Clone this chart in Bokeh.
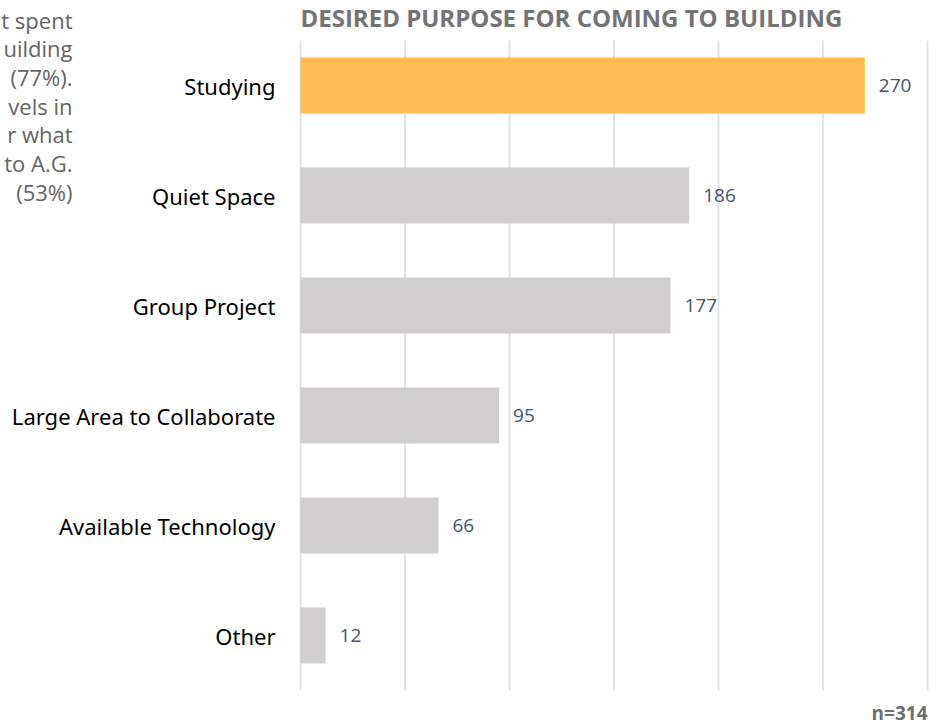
from bokeh.plotting import figure
from bokeh.models import Range1d, ColumnDataSource
from bokeh.core.properties import value
from bokeh.embed import file_html
from bokeh.resources import INLINE

categories = ["Studying", "Quiet Space", "Group Project", "Large Area to Collaborate", "Available Technology", "Other"]
counts = [270, 186, 177, 95, 66, 12]
colors = ["#FFBB4F", "#D0CECE", "#D0CECE", "#D0CECE", "#D0CECE", "#D0CECE"]
title_text = "DESIRED PURPOSE FOR COMING TO BUILDING"
note_text = "n=314"
side_lines = ["t spent", "uilding", "(77%).", "vels in", "r what", "to A.G.", "(53%)"]
x_ticks = [0, 50, 100, 150, 200, 250, 300]

W, H = 931, 726
left_px, px_per_x = 300.0, 2.09
top_center_px, px_per_y = 85.0, 110.0
n = len(categories)
ypos = [n - 1 - i for i in range(n)]

def dx(px):
    return (px - left_px) / px_per_x

def dy(py):
    return (n - 1) + (top_center_px - py) / px_per_y

p = figure(width=W, height=H, output_backend="svg", toolbar_location=None,
           x_range=Range1d(dx(0), dx(W)), y_range=Range1d(dy(H), dy(0)),
           min_border=0)
p.outline_line_color = None
p.axis.visible = False
p.grid.visible = False
p.background_fill_color = "white"
p.border_fill_color = "white"

# grid lines
p.segment(x0=x_ticks, y0=[dy(690)] * len(x_ticks), x1=x_ticks, y1=[dy(40)] * len(x_ticks),
          line_color="#DFE3EA", line_width=2)

src = ColumnDataSource(dict(y=ypos, v=counts, c=colors, lab=[str(v) for v in counts], cat=categories))
p.hbar(y="y", left=0, right="v", height=0.51, fill_color="c", line_color=None, source=src)
p.text(x="v", y="y", text="lab", source=src, x_offset=14, text_baseline="middle",
       text_font=value("Open Sans"), text_font_size="19px", text_color="#44546A")
p.text(x=0, y="y", text="cat", source=src, x_offset=-25, text_align="right", text_baseline="middle",
       text_font=value("Noto Sans"), text_font_size="22px", text_color="#000000")

p.text(x=[0], y=[dy(17)], text=[title_text], text_baseline="middle",
       text_font=value("Open Sans"), text_font_style="bold", text_font_size="24px",
       text_color="#737375")
p.text(x=[x_ticks[-1]], y=[dy(712)], text=[note_text], text_align="right", text_baseline="middle",
       text_font=value("Open Sans"), text_font_style="bold", text_font_size="19px",
       text_color="#6E6E70")
p.text(x=[dx(72)] * len(side_lines), y=[dy(19 + 28.7 * i) for i in range(len(side_lines))],
       text=side_lines, text_align="right", text_baseline="middle",
       text_font=value("Open Sans"), text_font_size="22px", text_color="#646464")

open("out.html", "w").write(file_html(p, INLINE))
